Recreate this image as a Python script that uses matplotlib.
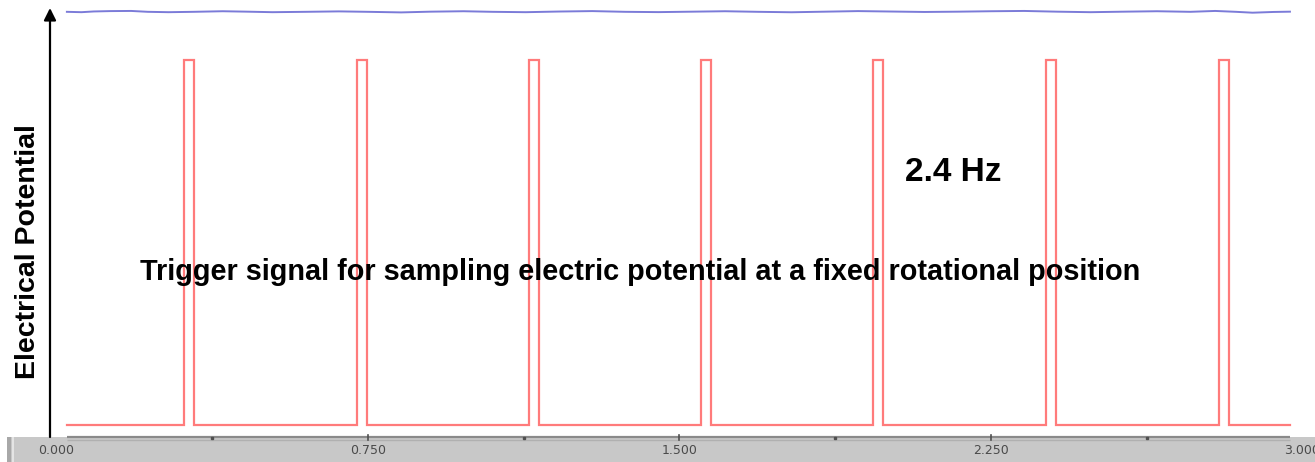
import numpy as np
import matplotlib
matplotlib.use("Agg")
import matplotlib.pyplot as plt
from matplotlib.patches import Rectangle, FancyArrowPatch

# --- data -------------------------------------------------------------
# rising-edge times of the trigger pulses (s)
pulse_starts = [0.307, 0.724, 1.138, 1.552, 1.966, 2.383, 2.799]
pulse_width = 0.024          # s
trigger_low = 0.0            # V (arbitrary units)
trigger_high = 5.0
trace_start, trace_end = 0.025, 2.970

# upper (potential) trace, sampled sparsely
pot_t = [0.025, 0.06, 0.09, 0.13, 0.18, 0.22, 0.27, 0.33, 0.40, 0.46, 0.52,
         0.60, 0.68, 0.75, 0.83, 0.90, 0.98, 1.05, 1.13, 1.21, 1.29, 1.37,
         1.45, 1.53, 1.61, 1.69, 1.77, 1.85, 1.93, 2.01, 2.09, 2.17, 2.25,
         2.33, 2.41, 2.49, 2.57, 2.65, 2.73, 2.79, 2.84, 2.88, 2.93, 2.970]
pot_v = [5.66, 5.655, 5.665, 5.67, 5.672, 5.66, 5.655, 5.66, 5.668, 5.662,
         5.655, 5.66, 5.666, 5.66, 5.652, 5.662, 5.668, 5.66, 5.655, 5.664,
         5.67, 5.66, 5.656, 5.662, 5.668, 5.66, 5.654, 5.662, 5.67, 5.664,
         5.658, 5.662, 5.668, 5.672, 5.662, 5.655, 5.662, 5.668, 5.66, 5.672,
         5.66, 5.648, 5.658, 5.662]

tick_values = [0.0, 0.75, 1.5, 2.25, 3.0]
tick_labels = ["0.000", "0.750", "1.500", "2.250", "3.000"]
minor_values = [0.375, 1.125, 1.875, 2.625]

# --- build trigger square wave ---------------------------------------
tt = [trace_start]
vv = [trigger_low]
for s in pulse_starts:
    tt += [s, s, s + pulse_width, s + pulse_width]
    vv += [trigger_low, trigger_high, trigger_high, trigger_low]
tt.append(trace_end)
vv.append(trigger_low)

# --- figure geometry ---------------------------------------------------
W, H = 1315, 462
fig = plt.figure(figsize=(W / 100, H / 100), dpi=100)
ax = fig.add_axes([0, 0, 1, 1])

# pixel <-> data mapping
x0_px, x_scale = 56.5, 415.3     # px of t=0, px per second
y0_px, y_scale = 425.0, 73.0     # px of v=0, px per volt
ax.set_xlim(-x0_px / x_scale, (W - x0_px) / x_scale)
ax.set_ylim((y0_px - H) / y_scale, y0_px / y_scale)
ax.axis("off")

def fx(px):
    return px / W

def fy(py):
    return 1 - py / H

# traces
ax.plot(tt, vv, color="#ff7b7b", lw=1.6, solid_joinstyle="miter", zorder=3)
ax.plot(pot_t, pot_v, color="#7b7bd8", lw=1.4, zorder=3)

# ruler band at the bottom
ax.add_patch(Rectangle((fx(7), 0), fx(W - 7), fy(437), transform=ax.transAxes,
                       facecolor="#c8c8c8", edgecolor="none", zorder=1))
ax.add_patch(Rectangle((fx(7), 0), fx(4), fy(437), transform=ax.transAxes,
                       facecolor="#a8a8a8", edgecolor="none", zorder=2))
ax.add_patch(Rectangle((fx(12), 0), fx(2), fy(437), transform=ax.transAxes,
                       facecolor="#e4e4e4", edgecolor="none", zorder=2))
ax.plot([trace_start, trace_end], [(y0_px - 437) / y_scale] * 2,
        color="#8a8a8a", lw=1.6, zorder=2, solid_capstyle="butt")
ax.plot([trace_start, trace_end], [(y0_px - 439.5) / y_scale] * 2,
        color="#b0b0b0", lw=1.0, zorder=2, solid_capstyle="butt")

for v in tick_values[1:-1]:
    ax.plot([v, v], [(y0_px - 434.5) / y_scale, (y0_px - 440) / y_scale],
            color="#505050", lw=1.2, zorder=3)
for v in minor_values:
    ax.plot([v], [(y0_px - 438) / y_scale], marker="s", ms=1.5,
            color="#505050", zorder=3)

for v, lab in zip(tick_values, tick_labels):
    ax.text(v, (y0_px - 451) / y_scale, lab, ha="center", va="center",
            fontsize=9, color="#4a4a4a", family="DejaVu Sans", zorder=4)

# vertical axis arrow
ax.add_patch(FancyArrowPatch((fx(50), fy(437)), (fx(50), fy(8)),
                             transform=ax.transAxes, arrowstyle="-|>",
                             mutation_scale=18, lw=1.6, color="black",
                             shrinkA=0, shrinkB=0, zorder=4))

# annotations
ax.text(fx(28), fy(252), "Electrical Potential", transform=ax.transAxes,
        rotation=90, ha="center", va="center", fontsize=20.5,
        fontweight="bold", family="Liberation Sans", color="black", zorder=5)
ax.text(fx(640), fy(272), "Trigger signal for sampling electric potential at a fixed rotational position",
        transform=ax.transAxes, ha="center", va="center", fontsize=20.8,
        fontweight="bold", family="Liberation Sans", color="black", zorder=5)
ax.text(fx(953), fy(173), "2.4 Hz", transform=ax.transAxes, ha="center",
        va="center", fontsize=24, fontweight="bold", family="Liberation Sans",
        color="black", zorder=5)

fig.savefig("out.png", dpi=100, facecolor="white")
